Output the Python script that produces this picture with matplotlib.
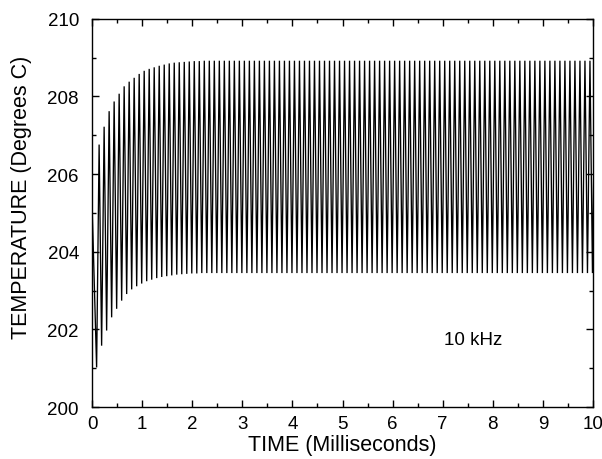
import matplotlib
matplotlib.use("Agg")
import matplotlib.pyplot as plt
import numpy as np
from matplotlib.ticker import MultipleLocator

plt.rcParams['font.family'] = ['Liberation Sans', 'DejaVu Sans']

# ---- data ----
start_temp = 205.2           # value at t = 0 ms
period_ms = 0.1              # 10 kHz
trough_offset_ms = 0.09      # time of first minimum
peak_offset_ms = 0.14        # time of first maximum

peak_temps = [
    206.76, 207.22, 207.62, 207.87, 208.07, 208.26, 208.38, 208.48, 208.58, 208.66,
    208.71, 208.75, 208.79, 208.82, 208.85, 208.87, 208.88, 208.89, 208.90, 208.91,
    208.91, 208.92, 208.92, 208.92, 208.92, 208.92, 208.92, 208.92, 208.92, 208.92,
    208.92, 208.92, 208.92, 208.92, 208.92, 208.92, 208.92, 208.92, 208.92, 208.92,
    208.92, 208.92, 208.92, 208.92, 208.92, 208.92, 208.92, 208.92, 208.92, 208.92,
    208.92, 208.92, 208.92, 208.92, 208.92, 208.92, 208.92, 208.92, 208.92, 208.92,
    208.92, 208.92, 208.92, 208.92, 208.92, 208.92, 208.92, 208.92, 208.92, 208.92,
    208.92, 208.92, 208.92, 208.92, 208.92, 208.92, 208.92, 208.92, 208.92, 208.92,
    208.92, 208.92, 208.92, 208.92, 208.92, 208.92, 208.92, 208.92, 208.92, 208.92,
    208.92, 208.92, 208.92, 208.92, 208.92, 208.92, 208.92, 208.92, 208.92, 208.92,
]
trough_temps = [
    201.02, 201.58, 201.97, 202.31, 202.53, 202.74, 202.91, 203.03, 203.11, 203.18,
    203.24, 203.28, 203.32, 203.35, 203.37, 203.39, 203.41, 203.42, 203.43, 203.44,
    203.44, 203.45, 203.45, 203.45, 203.45, 203.45, 203.45, 203.45, 203.45, 203.45,
    203.45, 203.45, 203.45, 203.45, 203.45, 203.45, 203.45, 203.45, 203.45, 203.45,
    203.45, 203.45, 203.45, 203.45, 203.45, 203.45, 203.45, 203.45, 203.45, 203.45,
    203.45, 203.45, 203.45, 203.45, 203.45, 203.45, 203.45, 203.45, 203.45, 203.45,
    203.45, 203.45, 203.45, 203.45, 203.45, 203.45, 203.45, 203.45, 203.45, 203.45,
    203.45, 203.45, 203.45, 203.45, 203.45, 203.45, 203.45, 203.45, 203.45, 203.45,
    203.45, 203.45, 203.45, 203.45, 203.45, 203.45, 203.45, 203.45, 203.45, 203.45,
    203.45, 203.45, 203.45, 203.45, 203.45, 203.45, 203.45, 203.45, 203.45, 203.45,
]
x_ticks = [0, 1, 2, 3, 4, 5, 6, 7, 8, 9, 10]
y_ticks = [200, 202, 204, 206, 208, 210]
annotation = "10 kHz"
x_label = "TIME (Milliseconds)"
y_label = "TEMPERATURE (Degrees C)"

# ---- build the waveform (alternating minima and maxima) ----
n = len(peak_temps)
t = [0.0]
T = [start_temp]
for k in range(n):
    t.append(trough_offset_ms + period_ms * k)
    T.append(trough_temps[k])
    t.append(peak_offset_ms + period_ms * k)
    T.append(peak_temps[k])

fig = plt.figure(figsize=(6.02, 4.60), dpi=100)
ax = fig.add_axes([0.153, 0.113, 0.832, 0.844])
ax.plot(t, T, color='black', linewidth=0.95, solid_joinstyle='miter')

ax.set_xlim(0, 10)
ax.set_ylim(200, 210)
ax.set_xticks(x_ticks)
ax.set_yticks(y_ticks)
ax.xaxis.set_minor_locator(MultipleLocator(0.5))
ax.yaxis.set_minor_locator(MultipleLocator(1))
ax.tick_params(which='both', direction='in', top=True, right=True, labelsize=13.5,
               width=1.0)
ax.tick_params(which='major', length=5)
ax.tick_params(which='minor', length=3)
ax.tick_params(axis='x', pad=6)
ax.tick_params(axis='y', pad=9.5)
for s in ax.spines.values():
    s.set_linewidth(1.0)

ax.set_xlabel(x_label, fontsize=15.5, labelpad=1)
ax.set_ylabel(y_label, fontsize=15.5)
ax.yaxis.set_label_coords(-0.12, 0.542)
ax.text(7.6, 201.75, annotation, fontsize=13.5, ha='center', va='center')

fig.savefig("out.png", dpi=100)
